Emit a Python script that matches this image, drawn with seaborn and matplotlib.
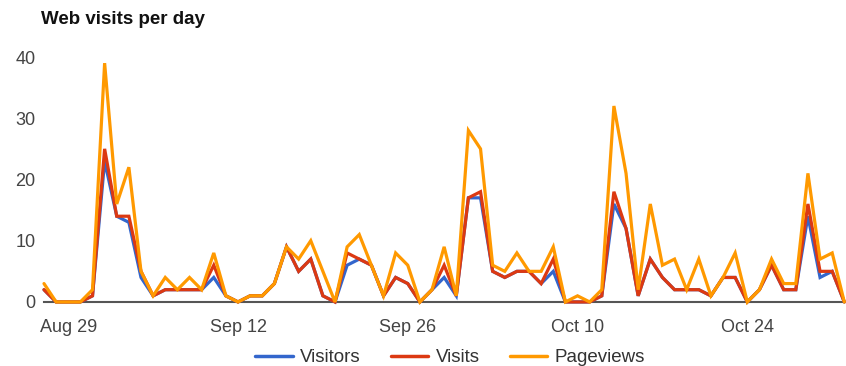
import matplotlib
matplotlib.use("Agg")
import matplotlib.pyplot as plt
import matplotlib.dates as mdates
import pandas as pd
import seaborn as sns

# Daily traffic, Aug 27 through Nov 1
start_date = "2013-08-27"
visitors = [2, 0, 0, 0, 1, 23, 14, 13, 4, 1, 2, 2, 2, 2, 4, 1, 0, 1, 1, 3,
            9, 5, 7, 1, 0, 6, 7, 6, 1, 4, 3, 0, 2, 4, 1, 17, 17, 5, 4, 5,
            5, 3, 5, 0, 0, 0, 1, 16, 12, 1, 7, 4, 2, 2, 2, 1, 4, 4, 0, 2,
            6, 2, 2, 14, 4, 5, 0]
visits = [2, 0, 0, 0, 1, 25, 14, 14, 5, 1, 2, 2, 2, 2, 6, 1, 0, 1, 1, 3,
          9, 5, 7, 1, 0, 8, 7, 6, 1, 4, 3, 0, 2, 6, 1, 17, 18, 5, 4, 5,
          5, 3, 7, 0, 0, 0, 1, 18, 12, 1, 7, 4, 2, 2, 2, 1, 4, 4, 0, 2,
          6, 2, 2, 16, 5, 5, 0]
pageviews = [3, 0, 0, 0, 2, 39, 16, 22, 5, 1, 4, 2, 4, 2, 8, 1, 0, 1, 1, 3,
             9, 7, 10, 5, 0, 9, 11, 6, 1, 8, 6, 0, 2, 9, 1, 28, 25, 6, 5, 8,
             5, 5, 9, 0, 1, 0, 2, 32, 21, 2, 16, 6, 7, 2, 7, 1, 4, 8, 0, 2,
             7, 3, 3, 21, 7, 8, 0]
series_names = ["Visitors", "Visits", "Pageviews"]
series_colors = ["#3366cc", "#dc3912", "#ff9900"]
tick_dates = ["2013-08-29", "2013-09-12", "2013-09-26", "2013-10-10", "2013-10-24"]
y_ticks = [0, 10, 20, 30, 40]

dates = pd.date_range(start_date, periods=len(visitors), freq="D")
df = pd.concat([
    pd.DataFrame({"date": dates, "value": vals, "series": name})
    for name, vals in zip(series_names, [visitors, visits, pageviews])
], ignore_index=True)

sns.set_theme(style="white")
plt.rcParams["font.family"] = ["Liberation Sans", "DejaVu Sans"]

fig = plt.figure(figsize=(8.46, 3.66), dpi=100)
ax = fig.add_axes([0.052, 0.175, 0.946, 0.7027])

sns.lineplot(data=df, x="date", y="value", hue="series",
             hue_order=series_names, palette=series_colors,
             linewidth=2.3, ax=ax, legend=False)
for ln in ax.get_lines():
    ln.set_clip_on(False)
    ln.set_solid_joinstyle("miter")

ax.set_xlim(dates[0], dates[-1])
ax.set_ylim(0, 42)
ax.set_yticks(y_ticks)
ax.set_xticks(pd.to_datetime(tick_dates))
ax.xaxis.set_major_formatter(mdates.DateFormatter("%b %d"))
ax.tick_params(axis="both", length=0, labelsize=13, colors="#444444")
ax.tick_params(axis="x", pad=12)
ax.tick_params(axis="y", pad=6)
ax.set_xlabel("")
ax.set_ylabel("")
for side in ["top", "right", "left"]:
    ax.spines[side].set_visible(False)
ax.spines["bottom"].set_color("#555555")
ax.spines["bottom"].set_linewidth(1.5)
ax.spines["bottom"].set_zorder(0)

fig.text(0.048, 0.935, "Web visits per day", fontsize=13.5, fontweight="bold",
         color="#111111")

handles = [plt.Line2D([], [], color=c, lw=2.5) for c in series_colors]
fig.legend(handles, series_names, loc="lower center",
           bbox_to_anchor=(0.532, -0.047), ncol=3, frameon=False,
           fontsize=13.5, handlelength=2.0, handletextpad=0.4,
           columnspacing=1.6, labelcolor="#333333")

fig.savefig("out.png", dpi=100)
